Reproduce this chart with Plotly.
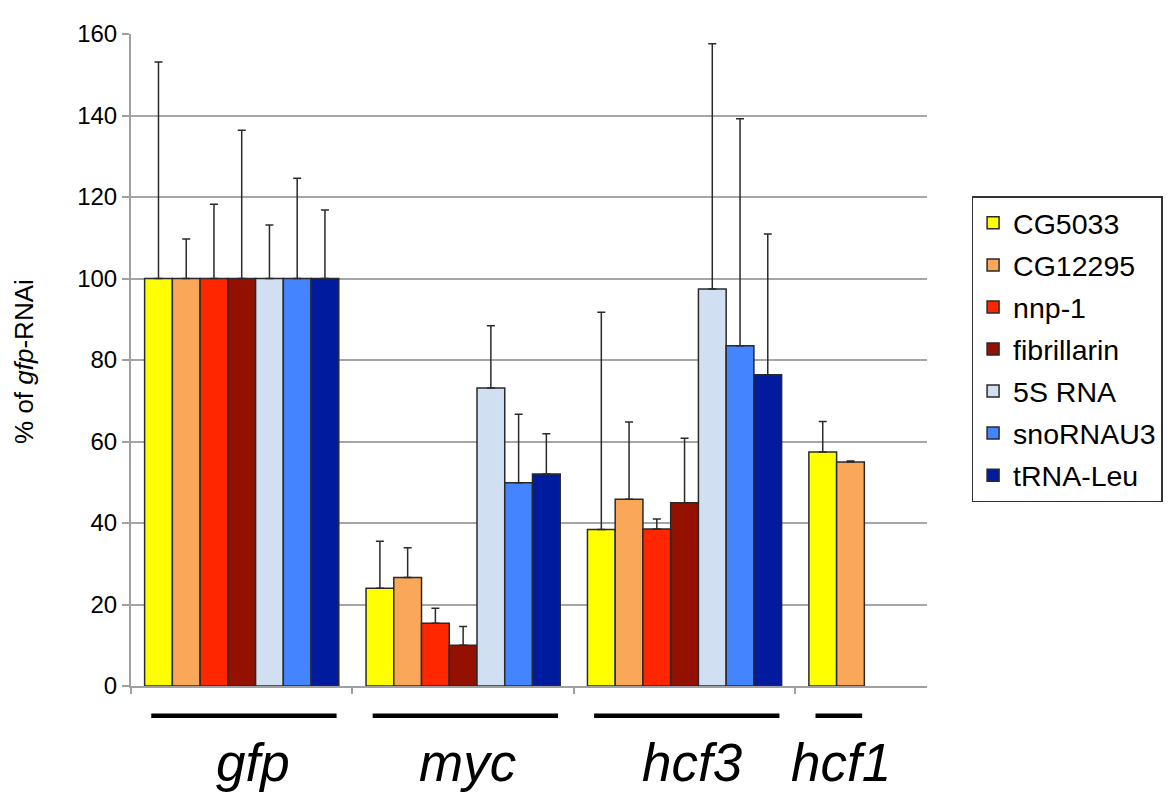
import plotly.graph_objects as go

groups = ["gfp", "myc", "hcf3", "hcf1"]
series = ["CG5033", "CG12295", "nnp-1", "fibrillarin", "5S RNA", "snoRNAU3", "tRNA-Leu"]
colors = ["#FFFF00", "#FAA75A", "#FF2600", "#941100", "#D0E0F2", "#4485FF", "#001B9E"]

cg5033 = [100, 24.0, 38.4, 57.4]
cg5033_sd = [53.1, 11.5, 53.3, 7.5]
cg12295 = [100, 26.6, 45.8, 55.0]
cg12295_sd = [9.7, 7.3, 19.0, 0.2]
nnp1 = [100, 15.4, 38.5, None]
nnp1_sd = [18.2, 3.7, 2.5, None]
fibrillarin = [100, 10.0, 45.0, None]
fibrillarin_sd = [36.4, 4.6, 15.8, None]
rna5s = [100, 73.1, 97.4, None]
rna5s_sd = [13.1, 15.3, 60.2, None]
snornau3 = [100, 49.9, 83.5, None]
snornau3_sd = [24.6, 16.8, 55.7, None]
trnaleu = [100, 52.0, 76.4, None]
trnaleu_sd = [16.8, 9.9, 34.5, None]

values = [cg5033, cg12295, nnp1, fibrillarin, rna5s, snornau3, trnaleu]
sds = [cg5033_sd, cg12295_sd, nnp1_sd, fibrillarin_sd, rna5s_sd, snornau3_sd, trnaleu_sd]

FONT = "Liberation Sans, Arial, sans-serif"
BARGAP = 0.123
label_xshift = [9, 2, 6, 2]

fig = go.Figure()
for name, col, v, sd in zip(series, colors, values, sds):
    fig.add_trace(go.Bar(
        x=groups, y=v, name=name, legendgroup=name,
        marker=dict(color=col, line=dict(color="#2a2a2a", width=1.5)),
        error_y=dict(type="data", symmetric=False, array=sd,
                     arrayminus=[0 if s is not None else None for s in sd],
                     color="#2a2a2a", thickness=1.5, width=4),
    ))

# group underline bars and italic group labels
n_bars = [sum(1 for v in values if v[i] is not None) for i in range(len(groups))]
slot = (1 - BARGAP) / len(series)
shapes = []
annotations = []
for i, (g, n) in enumerate(zip(groups, n_bars)):
    start = i - 0.5 + BARGAP / 2 + 0.03
    end = i - 0.5 + BARGAP / 2 + n * slot - 0.01
    shapes.append(dict(type="line", xref="x", yref="paper", x0=start, x1=end,
                       y0=-0.0456, y1=-0.0456, line=dict(color="black", width=4.5)))
    annotations.append(dict(x=(start + end) / 2, y=-0.117, xref="x", yref="paper",
                            xshift=label_xshift[i],
                            text="<i>%s</i>" % g, showarrow=False,
                            xanchor="center", yanchor="middle",
                            font=dict(family=FONT, size=53, color="black")))

annotations.append(dict(x=-0.1336, y=0.498, xref="paper", yref="paper",
                        text="% of <i>gfp</i>-RNAi", textangle=-90, showarrow=False,
                        xanchor="center", yanchor="middle",
                        font=dict(family=FONT, size=26, color="black")))

# page body has an 8px margin: shrink the figure so the plot lands where intended
fig.update_layout(
    width=1167, height=784,
    margin=dict(l=123, r=230, t=12, b=106),
    paper_bgcolor="white", plot_bgcolor="white",
    barmode="group", bargap=BARGAP, bargroupgap=0,
    font=dict(family=FONT, color="black"),
    showlegend=True,
    legend=dict(x=1.056, y=0.751, xanchor="left", yanchor="top",
                bordercolor="#333333", borderwidth=1.5, bgcolor="white",
                font=dict(family=FONT, size=28.5, color="black"),
                traceorder="grouped", tracegroupgap=2,
                itemclick=False),
    xaxis=dict(range=[-0.5, 3.095], showticklabels=False, ticks="outside",
               tickson="boundaries", ticklen=6, tickcolor="#A0A0A0", tickwidth=1.5,
               showline=True, linecolor="#A0A0A0", linewidth=2, showgrid=False,
               zeroline=False),
    yaxis=dict(range=[0, 160], dtick=20, tick0=0, showgrid=True, gridcolor="#A6A6A6",
               gridwidth=1.5, showline=True, linecolor="#A0A0A0", linewidth=2,
               ticks="outside", ticklen=7, tickcolor="#A0A0A0", tickwidth=1.5,
               ticklabeloverflow="allow",
               tickfont=dict(family=FONT, size=24, color="black"), zeroline=False),
    shapes=shapes, annotations=annotations,
)

fig.write_html("out.html")
